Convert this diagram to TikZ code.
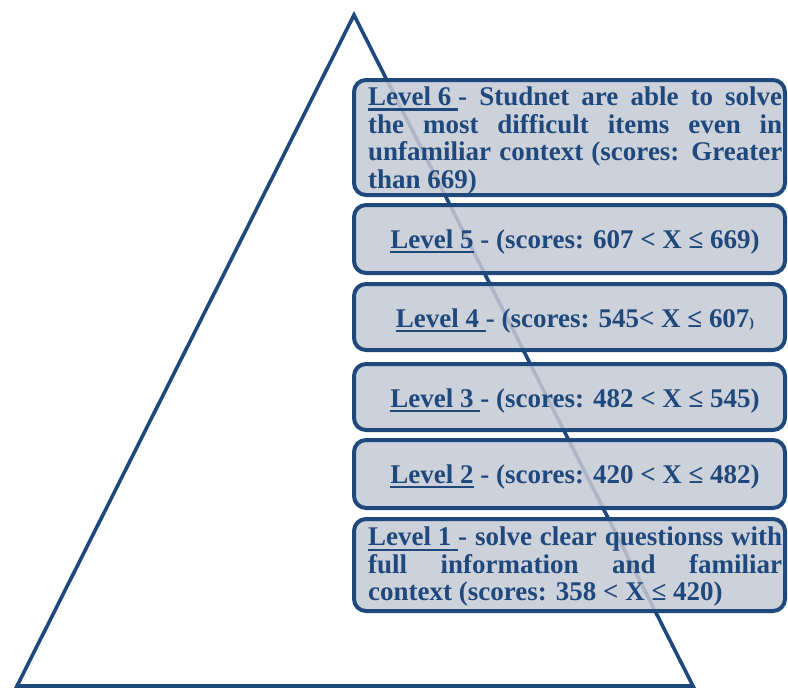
\documentclass[tikz,border=0pt]{standalone}
\usepackage{fontspec}
\setmainfont{Liberation Serif}
\definecolor{dblue}{RGB}{31,73,125}
\definecolor{boxfill}{RGB}{197,201,212}
\newcommand\ulv[1]{\setbox0=\hbox{#1}\rlap{\rule[-5pt]{\wd0}{2.4pt}}\box0\relax}
\newcommand\jl[1]{\makebox[414pt][s]{#1}}
\begin{document}
\begin{tikzpicture}[x=1pt,y=-1pt,
  tri/.style={draw=dblue, line width=3.6pt, line join=miter},
  lvbox/.style={draw=dblue, line width=4pt, rounded corners=12pt, fill=boxfill, fill opacity=0.86, draw opacity=1, inner sep=0pt, minimum width=431pt},
  lvtext/.style={text=dblue, font=\fontsize{27}{27.5}\selectfont\bfseries, inner sep=0pt}]
\useasboundingbox (0,0) rectangle (788,689);
\coordinate (apex) at (354,15);
\coordinate (bl) at (17,686);
\coordinate (br) at (693,686);
\draw[tri] (apex) -- (br) -- (bl) -- cycle;
% boxes
\node[lvbox, minimum height=115pt] (b6) at (569.5,137.5) {};
\node[lvbox, minimum height=68pt] (b5) at (569.5,239) {};
\node[lvbox, minimum height=66pt] (b4) at (569.5,317) {};
\node[lvbox, minimum height=66pt] (b3) at (569.5,397) {};
\node[lvbox, minimum height=68pt] (b2) at (569.5,474) {};
\node[lvbox, minimum height=92pt] (b1) at (569.5,565) {};
% texts
\node[lvtext, anchor=north west, align=left] (t6) at (368,85.3)
  {\rule{0pt}{20pt}\jl{\ulv{Level 6 }- Studnet are able to solve}\\
   \jl{the most difficult items even in}\\
   \jl{unfamiliar context (scores: Greater}\\
   than 669)};
\node[lvtext, anchor=base] (t5) at (575,248) {\ulv{Level 5} - (scores: 607 < X ≤ 669)};
\node[lvtext, anchor=base] (t4) at (575,327) {\ulv{Level 4 }- (scores: 545< X ≤ 607{\fontsize{14}{14}\selectfont)}};
\node[lvtext, anchor=base] (t3) at (575,407) {\ulv{Level 3 }- (scores: 482 < X ≤ 545)};
\node[lvtext, anchor=base] (t2) at (575,483) {\ulv{Level 2} - (scores: 420 < X ≤ 482)};
\node[lvtext, anchor=north west, align=left] (t1) at (368,525.7)
  {\rule{0pt}{20pt}\jl{\ulv{Level 1 }- solve clear questionss with}\\
   \jl{full information and familiar}\\
   context (scores: 358 < X ≤ 420)};
\end{tikzpicture}
\end{document}
